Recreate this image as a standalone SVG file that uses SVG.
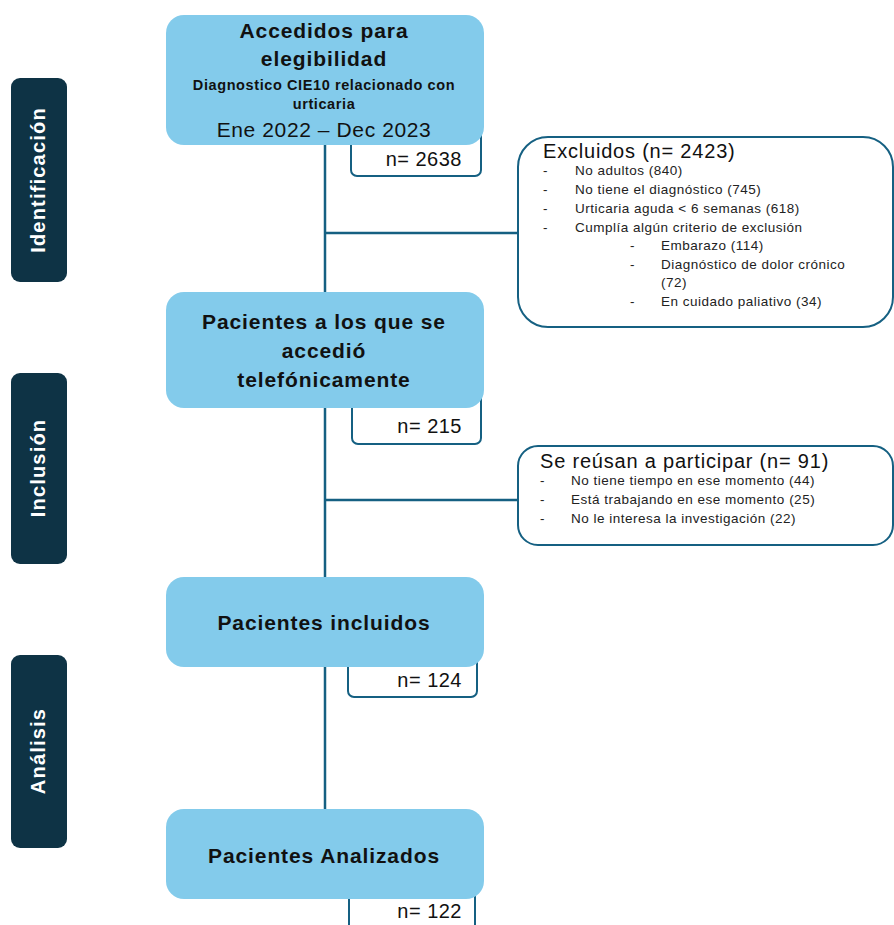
<svg xmlns="http://www.w3.org/2000/svg" width="894" height="925" viewBox="0 0 894 925">
<style>
.bg{fill:#ffffff}
.side{fill:#0E3345}
.sidet{fill:#ffffff;font-family:"Liberation Sans",Arial,sans-serif;font-weight:bold;font-size:20px;letter-spacing:1.2px;text-anchor:middle}
.node{fill:#83CBEB}
.nt{fill:#111111;font-family:"Liberation Sans",Arial,sans-serif;font-weight:bold;font-size:21px;letter-spacing:0.9px;text-anchor:middle}
.nbox{fill:#ffffff;stroke:#156082;stroke-width:2}
.nn{fill:#111111;font-family:"Liberation Sans",Arial,sans-serif;font-size:20px;letter-spacing:0.5px;text-anchor:end}
.ebox{fill:#ffffff;stroke:#156082;stroke-width:2}
.et{fill:#111111;font-family:"Liberation Sans",Arial,sans-serif;font-size:20px;letter-spacing:0.8px}
.bl{fill:#222222;font-family:"Liberation Sans",Arial,sans-serif;font-size:13.5px;letter-spacing:0.5px}
.conn{stroke:#156082;stroke-width:2.5;fill:none}
</style>
<rect class="bg" x="0" y="0" width="894" height="925"/>
<g id="side-identificacion">
<rect class="side" x="11" y="78" width="56" height="204" rx="9"/>
<text class="sidet" transform="translate(45,180) rotate(-90)">Identificación</text>
</g>
<g id="side-inclusion">
<rect class="side" x="11" y="373" width="56" height="191" rx="9"/>
<text class="sidet" transform="translate(45,468) rotate(-90)">Inclusión</text>
</g>
<g id="side-analisis">
<rect class="side" x="11" y="655" width="56" height="193" rx="9"/>
<text class="sidet" transform="translate(45,751) rotate(-90)">Análisis</text>
</g>
<g id="connectors">
<line class="conn" x1="325" y1="140" x2="325" y2="812"/>
<line class="conn" x1="325" y1="233" x2="519" y2="233"/>
<line class="conn" x1="325" y1="500" x2="519" y2="500"/>
</g>
<g id="n1">
<path class="nbox" d="M351,120 V170 a6,6 0 0 0 6,6 H475 a6,6 0 0 0 6,-6 V120"/>
<text class="nn" x="462" y="166">n= 2638</text>
<rect class="node" x="166" y="15" width="318" height="130" rx="18"/>
<text class="nt" x="324" y="38">Accedidos para</text>
<text class="nt" x="324" y="66">elegibilidad</text>
<text class="nt" x="324" y="90" style="font-size:14.5px;letter-spacing:0.6px">Diagnostico CIE10 relacionado con</text>
<text class="nt" x="324" y="109" style="font-size:14.5px;letter-spacing:0.6px">urticaria</text>
<text class="nt" x="324" y="137" style="font-weight:normal;letter-spacing:0.6px">Ene 2022 – Dec 2023</text>
</g>
<g id="excluidos">
<rect class="ebox" x="518" y="137" width="375" height="190" rx="30"/>
<text class="et" x="543" y="158">Excluidos (n= 2423)</text>
<text class="bl" x="543" y="175">-</text><text class="bl" x="575" y="175">No adultos (840)</text>
<text class="bl" x="543" y="194">-</text><text class="bl" x="575" y="194">No tiene el diagnóstico (745)</text>
<text class="bl" x="543" y="213">-</text><text class="bl" x="575" y="213">Urticaria aguda &lt; 6 semanas (618)</text>
<text class="bl" x="543" y="232">-</text><text class="bl" x="575" y="232">Cumplía algún criterio de exclusión</text>
<text class="bl" x="630" y="250">-</text><text class="bl" x="661" y="250">Embarazo (114)</text>
<text class="bl" x="630" y="269">-</text><text class="bl" x="661" y="269">Diagnóstico de dolor crónico</text>
<text class="bl" x="661" y="287">(72)</text>
<text class="bl" x="630" y="306">-</text><text class="bl" x="661" y="306">En cuidado paliativo (34)</text>
</g>
<g id="n2">
<path class="nbox" d="M352,390 V438 a6,6 0 0 0 6,6 H475 a6,6 0 0 0 6,-6 V390"/>
<text class="nn" x="462" y="433">n= 215</text>
<rect class="node" x="166" y="292" width="318" height="116" rx="18"/>
<text class="nt" x="324" y="329">Pacientes a los que se</text>
<text class="nt" x="324" y="358">accedió</text>
<text class="nt" x="324" y="387">telefónicamente</text>
</g>
<g id="rehusan">
<rect class="ebox" x="518" y="446" width="375" height="99" rx="20"/>
<text class="et" x="540" y="468">Se reúsan a participar (n= 91)</text>
<text class="bl" x="540" y="485">-</text><text class="bl" x="571" y="485">No tiene tiempo en ese momento (44)</text>
<text class="bl" x="540" y="504">-</text><text class="bl" x="571" y="504">Está trabajando en ese momento (25)</text>
<text class="bl" x="540" y="523">-</text><text class="bl" x="571" y="523">No le interesa la investigación (22)</text>
</g>
<g id="n3">
<path class="nbox" d="M348,650 V691 a6,6 0 0 0 6,6 H471 a6,6 0 0 0 6,-6 V650"/>
<text class="nn" x="462" y="687">n= 124</text>
<rect class="node" x="166" y="577" width="318" height="90" rx="18"/>
<text class="nt" x="324" y="630">Pacientes incluidos</text>
</g>
<g id="n4">
<path class="nbox" d="M349,880 V930 M475,880 V930"/>
<text class="nn" x="462" y="918">n= 122</text>
<rect class="node" x="166" y="809" width="318" height="90" rx="18"/>
<text class="nt" x="324" y="863">Pacientes Analizados</text>
</g>
</svg>
